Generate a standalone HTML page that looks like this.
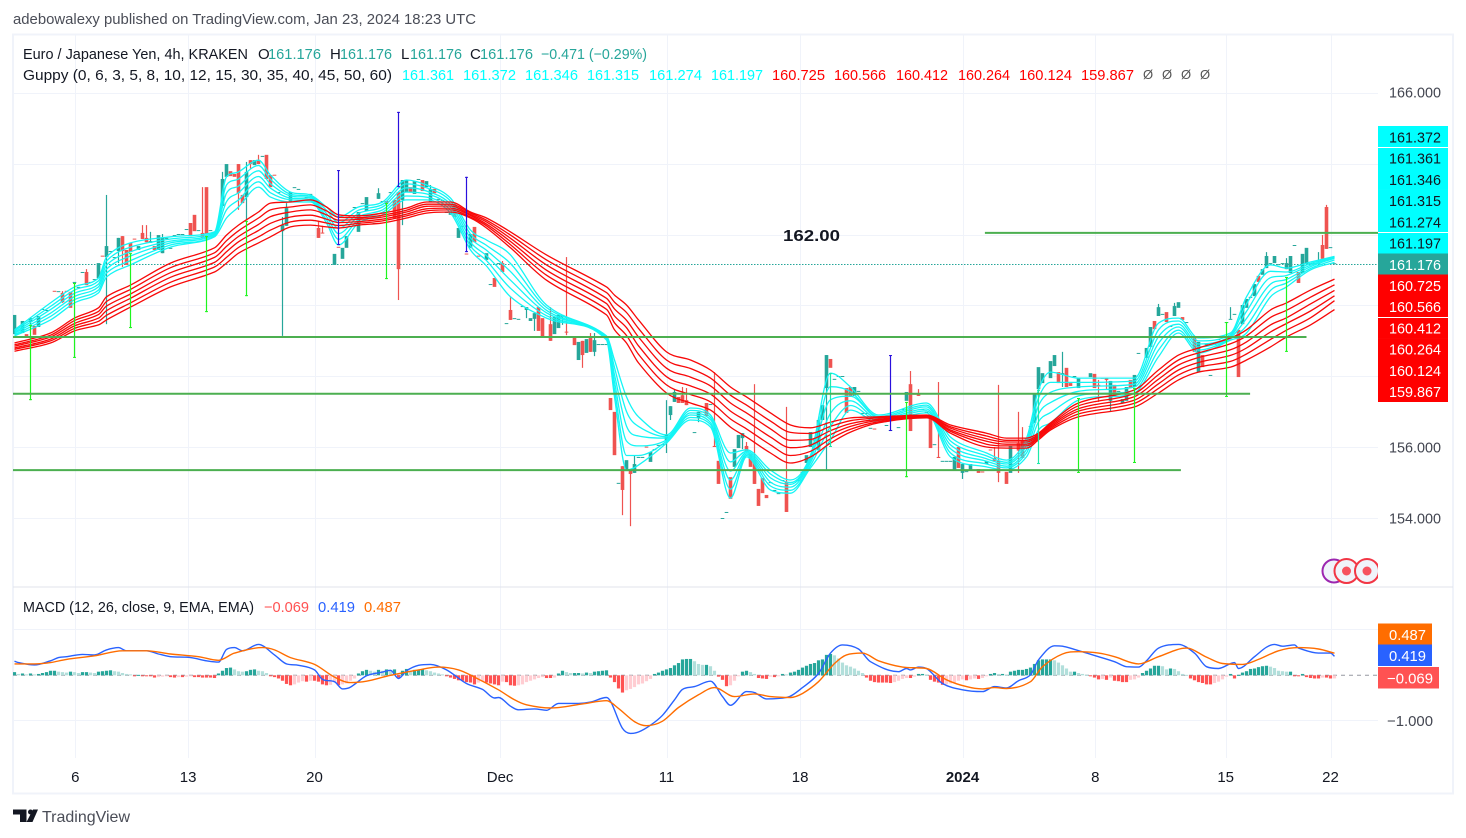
<!DOCTYPE html>
<html lang="en">
<head>
<meta charset="utf-8">
<title>EUR/JPY TradingView chart</title>
<style>
html,body{margin:0;padding:0;background:#fff;width:1466px;height:838px;overflow:hidden}
svg{display:block;font-family:"Liberation Sans",sans-serif}
text{font-family:"Liberation Sans",sans-serif}
</style>
</head>
<body>
<svg id="chart" xmlns="http://www.w3.org/2000/svg" width="1466" height="838" viewBox="0 0 1466 838">
  <defs>
    <clipPath id="pane-clip"><rect x="13" y="35" width="1365" height="552"/></clipPath>
    <clipPath id="macd-clip"><rect x="13" y="588" width="1365" height="170"/></clipPath>
    <clipPath id="icon-clip"><rect x="1315" y="550" width="63" height="36"/></clipPath>
  </defs>
  <text x="13" y="24" font-size="15" fill="#4a4d57" textLength="463" lengthAdjust="spacingAndGlyphs">adebowalexy published on TradingView.com, Jan 23, 2024 18:23 UTC</text>
  <rect x="13" y="34.5" width="1440" height="759" fill="#fff" stroke="#f0f3fa" stroke-width="2"/>
  <g id="grid"></g>
  <line x1="13" y1="587" x2="1453" y2="587" stroke="#e0e3eb" stroke-width="1"/>
  <g id="macd-layer" clip-path="url(#macd-clip)"></g>
  <g id="price-layer" clip-path="url(#pane-clip)"></g>

  <text x="783" y="241" font-size="16" font-weight="700" fill="#131722" textLength="57" lengthAdjust="spacingAndGlyphs">162.00</text>

  <g font-size="15">
    <text x="23" y="59" fill="#131722" textLength="225" lengthAdjust="spacingAndGlyphs">Euro / Japanese Yen, 4h, KRAKEN</text>
    <text x="258" y="59" fill="#131722">O</text>
    <text x="268" y="59" fill="#26a69a" textLength="53" lengthAdjust="spacingAndGlyphs">161.176</text>
    <text x="330" y="59" fill="#131722">H</text>
    <text x="340" y="59" fill="#26a69a" textLength="52" lengthAdjust="spacingAndGlyphs">161.176</text>
    <text x="401" y="59" fill="#131722">L</text>
    <text x="410" y="59" fill="#26a69a" textLength="52" lengthAdjust="spacingAndGlyphs">161.176</text>
    <text x="470" y="59" fill="#131722">C</text>
    <text x="480" y="59" fill="#26a69a" textLength="53" lengthAdjust="spacingAndGlyphs">161.176</text>
    <text x="541" y="59" fill="#26a69a" textLength="106" lengthAdjust="spacingAndGlyphs">−0.471 (−0.29%)</text>
    <text x="23" y="80" fill="#131722" textLength="369" lengthAdjust="spacingAndGlyphs">Guppy (0, 6, 3, 5, 8, 10, 12, 15, 30, 35, 40, 45, 50, 60)</text>
    <g>
      <text x="402" y="80" fill="#00ffff" textLength="52" lengthAdjust="spacingAndGlyphs">161.361</text>
      <text x="463" y="80" fill="#00ffff" textLength="53" lengthAdjust="spacingAndGlyphs">161.372</text>
      <text x="525" y="80" fill="#00ffff" textLength="53" lengthAdjust="spacingAndGlyphs">161.346</text>
      <text x="587" y="80" fill="#00ffff" textLength="52" lengthAdjust="spacingAndGlyphs">161.315</text>
      <text x="649" y="80" fill="#00ffff" textLength="53" lengthAdjust="spacingAndGlyphs">161.274</text>
      <text x="711" y="80" fill="#00ffff" textLength="52" lengthAdjust="spacingAndGlyphs">161.197</text>
      <text x="772" y="80" fill="#ff0000" textLength="53" lengthAdjust="spacingAndGlyphs">160.725</text>
      <text x="834" y="80" fill="#ff0000" textLength="52" lengthAdjust="spacingAndGlyphs">160.566</text>
      <text x="896" y="80" fill="#ff0000" textLength="52" lengthAdjust="spacingAndGlyphs">160.412</text>
      <text x="958" y="80" fill="#ff0000" textLength="52" lengthAdjust="spacingAndGlyphs">160.264</text>
      <text x="1019" y="80" fill="#ff0000" textLength="53" lengthAdjust="spacingAndGlyphs">160.124</text>
      <text x="1081" y="80" fill="#ff0000" textLength="53" lengthAdjust="spacingAndGlyphs">159.867</text>
      <text x="1143" y="79" fill="#555" font-size="13">Ø</text>
      <text x="1162" y="79" fill="#555" font-size="13">Ø</text>
      <text x="1181" y="79" fill="#555" font-size="13">Ø</text>
      <text x="1200" y="79" fill="#555" font-size="13">Ø</text>
    </g>
  </g>

  <g font-size="15">
    <text x="23" y="612" fill="#131722" textLength="231" lengthAdjust="spacingAndGlyphs">MACD (12, 26, close, 9, EMA, EMA)</text>
    <text x="264" y="612" fill="#ff5252" textLength="45" lengthAdjust="spacingAndGlyphs">−0.069</text>
    <text x="318" y="612" fill="#2962ff" textLength="37" lengthAdjust="spacingAndGlyphs">0.419</text>
    <text x="364" y="612" fill="#ff6d00" textLength="37" lengthAdjust="spacingAndGlyphs">0.487</text>
  </g>

  <g clip-path="url(#icon-clip)">
    <circle cx="1334" cy="571" r="11.5" fill="#f0f3fa" stroke="#9c27b0" stroke-width="2"/>
    <circle cx="1346.5" cy="571" r="12" fill="#f0f3fa" stroke="#f23645" stroke-width="2"/>
    <circle cx="1346.5" cy="571" r="4.5" fill="#f7525f"/>
    <circle cx="1367" cy="571" r="12" fill="#f0f3fa" stroke="#f23645" stroke-width="2"/>
    <circle cx="1367" cy="571" r="4.5" fill="#f7525f"/>
  </g>

  <g id="price-axis"></g>
  <g id="time-axis"></g>

  <g>
    <path d="M13 809.500h13.500v12.500h-6.500v-7.500h-7z" fill="#131722"/>
    <circle cx="30.500" cy="812" r="2.500" fill="#131722"/>
    <polygon points="33,809.500 38,809.500 32.500,822 26.500,822" fill="#131722"/>
    <text x="42" y="822" font-size="16" fill="#4a4d57" textLength="88" lengthAdjust="spacingAndGlyphs">TradingView</text>
  </g>
</svg>

<script>
/* ---------- price data (EUR/JPY, 4h) ---------- */
const priceTicks = [166, 156, 154];
const lastPrice = 161.176;
const timeTickBars = [15.2, 43.4, 75, 121.4, 163, 196.4, 237, 270.2, 302.8, 329];
const timeTickLabels = ['6', '13', '20', 'Dec', '11', '18', '2024', '8', '15', '22'];
const gridPrices = [166, 164, 162, 160, 158, 156, 154];
const macdGridValues = [1, -1];

/* [bar, open, close, high?, low?] */
const candles = [
[0,159.18,159.72],[2,159.21,159.55],[3,159.18,159.10],[4,159.52,159.63,159.66,159.46],[5,159.41,159.16],[6,159.38,159.69],[7,159.89,159.89],[8,159.86,159.86],
[10,160.40,160.39],[11,160.39,160.39],[12,160.34,160.08,160.39,160.06],[13,160.40,160.39],[14,160.37,159.92],[15,160.65,160.65],[16,160.51,160.51],[17,160.93,160.93],
[18,160.93,160.56,161.01],[19,160.65,160.65],[20,160.73,160.73],[21,160.76,161.18],[22,161.39,161.38],[23,161.35,161.66,163.10,159.46],[24,161.52,161.52],[25,161.35,161.35],
[26,161.52,161.89,0,161.18],[27,161.94,161.52,0,161.07],[28,161.55,161.13],[29,161.75,161.49],[30,161.87,161.86],[31,161.55,161.66],[32,162.03,161.86,162.25],[33,161.89,161.77,162.25],
[34,161.75,161.80,162.06,161.75],[35,161.66,161.55],[36,161.55,161.97],[37,161.46,161.89,162.00],[38,161.89,161.89],[39,161.61,161.61],[40,161.97,161.97],[41,162.00,162.00],[42,162.00,162.00],[43,162.14,162.14],
[44,162.31,161.94],[45,162.54,162.08],[46,162.11,162.11],[47,162.03,161.89,163.32],[48,163.32,162.00],[49,162.11,162.11],[50,162.06,162.06],[52,162.79,163.55,163.75],[53,163.61,163.97],[54,163.77,163.63],
[55,163.69,163.61],[56,163.97,163.15,0,162.68],[57,163.10,162.87],[58,163.04,163.75,164.03,162.39],[59,164.08,163.97,0,163.83],[60,163.94,164.08],[61,164.08,163.97,164.23],[62,164.20,164.20],[63,164.23,163.55],[64,163.66,163.32],
[65,163.67,163.66],[66,163.18,163.18],[67,162.08,162.25,162.48,159.13],[68,162.23,162.73,162.87],[69,162.90,163.18],[70,163.32,163.32],[71,163.27,163.27],[72,162.96,162.96],[73,163.04,163.04],[74,163.13,163.13],
[75,162.39,162.39],[76,162.17,161.89,162.37],[77,162.04,162.03,162.23],[80,161.13,161.44],[81,161.64,161.63],[82,161.30,161.61],[83,161.61,161.94],[85,162.76,162.76],[86,162.06,162.62],[87,162.87,162.87],
[88,162.65,163.04],[90,162.31,162.31],[91,162.99,163.15,163.29],[92,162.93,162.93],[93,162.93,162.85],[94,163.18,163.18],[95,162.96,162.45],[96,163.18,161.01,0,160.14],[97,162.96,163.52,0,162.25],[98,163.18,163.52],
[99,163.32,163.18],[100,163.13,163.49],[101,163.55,163.55],[102,163.52,163.21],[103,163.32,163.49],[104,162.90,163.27,163.38],[105,163.27,163.15],[106,162.99,162.99],[107,162.96,162.96],[108,162.62,162.62],
[109,162.54,162.62],[110,162.85,162.48],[111,161.89,162.17],[112,162.23,162.23],[113,161.45,161.44],[114,161.61,162.00],[115,162.20,161.77],[116,161.39,161.38],[118,161.27,161.46],[119,160.59,160.59],
[120,160.76,160.51],[121,161.18,161.18],[122,161.18,160.93,161.24],[123,159.49,159.49],[124,159.86,159.58,160.23],[125,159.63,159.63],[126,159.61,159.61],[127,159.97,159.97],[128,159.86,159.94,0,159.63],[129,159.55,159.63],
[130,159.61,159.77,0,159.27],[131,159.94,159.27],[132,159.63,159.10],[134,159.46,158.99,159.94],[135,159.18,159.66],[136,159.35,159.72],[137,159.66,159.72,0,159.44],[138,159.25,159.24,161.35,159.15],[140,159.10,158.87],[141,158.45,158.96],
[142,158.99,158.59,0,158.23],[143,158.65,159.04],[144,159.10,158.68,159.21],[145,158.68,159.01,159.21,158.56],[146,158.90,158.90],[147,158.90,158.90],[148,158.90,158.90],[149,157.38,157.04],[150,156.99,155.77],[151,154.99,154.99],
[152,155.46,154.79,0,154.08],[153,155.32,155.63],[154,155.38,155.24,0,153.77],[155,155.27,155.52,155.77],[156,155.72,155.72],[157,155.72,155.72],[158,156.01,156.00],[159,155.58,155.86],[160,155.94,155.94],[161,156.06,156.06],
[162,156.08,156.08],[163,156.20,156.34,157.32,155.83],[164,156.90,157.15,0,156.76],[165,157.27,157.55,157.61],[166,157.41,157.24],[167,157.46,157.24,157.69],[168,157.32,157.18,157.66],[170,156.42,156.42],[171,156.82,156.99,0,156.70],[172,157.00,156.99],
[173,157.24,156.87],[174,157.21,157.21],[175,156.03,156.00,158.11],[176,155.61,154.96],[177,154.00,154.00],[178,154.17,154.17],[179,155.15,154.54],[180,155.44,155.94],[181,155.97,156.34],[182,156.25,156.39,0,155.94],
[183,156.03,155.86,156.14],[184,155.80,155.44],[185,155.63,154.96,157.77],[186,154.82,154.34],[187,155.13,154.70],[188,154.65,154.56],[189,155.01,155.01],[190,154.79,154.79],[191,154.70,154.70],[192,155.07,155.07],
[193,155.01,154.17,157.13],[196,155.07,155.07],[197,155.21,155.30],[198,155.55,155.77],[199,156.00,156.42],[200,156.21,156.20],[201,155.92,156.76],[202,156.76,157.18],[203,157.66,158.59,0,155.35],[204,158.48,158.23],
[205,157.92,157.92],[206,158.00,158.00],[207,158.00,158.00],[208,157.66,156.96],[209,157.69,157.41],[210,157.44,157.69],[211,157.58,157.58],[212,156.96,156.96],[213,156.96,156.96],[214,156.54,156.54],
[215,156.52,156.51],[216,156.82,156.82],[218,156.62,156.62],[219,156.48,156.48],[221,156.56,156.56],[222,157.07,157.07],[223,157.30,157.55],[224,157.77,156.45,158.14],[225,157.50,157.49],[226,157.52,157.44,157.63],
[227,157.07,157.07],[228,156.99,156.99],[229,156.82,155.97],[230,156.08,156.08],[231,155.72,155.69,157.83],[232,155.61,155.61],[233,155.61,155.61],[234,155.61,155.61],[235,155.35,155.72],[236,156.00,155.41],
[237,155.27,155.52,0,155.10],[238,155.32,155.32],[239,155.35,155.52],[241,155.38,155.27],[242,155.31,155.30],[243,155.52,155.61],[244,155.93,155.92],[245,155.69,155.61,156.00],[246,155.61,155.27,157.75,155.01],[248,155.30,154.96],
[249,155.27,156.03],[251,156.11,155.90,156.99,155.27],[252,156.17,155.69,156.56],[253,156.25,156.25],[254,156.59,156.59],[255,156.68,157.49],[256,157.63,158.25],[257,157.80,158.08],[259,157.94,158.42],[260,158.28,158.59],
[261,158.11,157.80],[262,158.03,158.08,158.68,157.69],[263,158.23,157.69],[264,157.80,157.72],[265,158.00,158.00],[266,157.66,157.94],[269,157.97,158.08],[270,158.06,157.66],[271,157.75,157.72,157.89,157.27],[272,157.95,157.94],
[273,157.94,157.89,0,157.63],[274,157.30,157.86,0,156.99],[275,157.75,157.44],[276,157.58,157.58],[277,157.24,157.35],[278,157.30,157.69],[279,157.89,157.66],[280,157.69,158.03],[281,158.65,158.65],[283,158.51,158.79],
[284,158.82,159.38],[285,159.55,159.32],[286,159.69,159.94,160.03],[287,159.75,159.75],[288,159.80,159.52],[289,159.41,159.41],[290,159.69,159.97,160.06],[291,159.92,160.08],[292,159.66,159.58],[293,159.52,159.52],
[295,159.07,158.68],[296,158.11,158.96],[297,158.59,158.25],[298,158.90,158.90],[299,158.03,158.03],[300,158.90,158.90],[301,159.04,159.04],[303,159.52,159.52],[304,159.61,159.61,159.94],[305,159.75,159.75],
[306,159.30,157.97],[307,159.46,160.00],[308,159.92,160.17],[309,160.23,160.23],[310,160.25,160.59],[311,160.82,160.65],[312,160.85,161.01],[313,161.04,161.38,161.49],[314,161.18,161.18],[315,161.18,161.38],
[316,161.15,161.15],[317,161.18,161.18],[318,161.01,161.18,161.32],[319,160.90,161.38],[320,161.69,161.69],[321,160.93,160.62],[322,160.90,161.44],[323,161.15,161.61],[324,161.18,161.18],[325,161.18,161.18],
[326,161.18,161.18,161.49],[327,161.69,161.30,161.97],[328,162.76,161.58,162.82],[329,161.63,161.63],[330,161.176,161.176]
];

/* coloured long-wick bars: [bar, high, low] */
const limeWicks = [[4,159.44,157.32],[15,160.62,158.51],[29,161.46,159.35],[48,161.94,159.80],[58,162.37,160.25],[93,162.87,160.73],[223,157.27,155.15],[266,157.38,155.27],[280,157.66,155.55],[303,159.52,157.41],[318,160.79,158.68]];
const blueWicks = [[81,163.80,161.69],[96,165.44,163.32],[113,163.61,161.49],[219,158.59,156.45]];
const aquaWicks = [[204,158.08,156.00],[256,157.61,155.52]];

/* horizontal support / resistance drawings */
const levelPrices = [159.10, 157.50, 155.35, 162.03];
const levelStartBars = [-0.4, -0.4, -0.4, 242.6];
const levelEndBars = [323, 308.9, 291.6, 341];

/* Guppy multiple moving averages, sampled at these bars */
const guppyBars = [0,9,15,21,23,29,39,50,53,56,61,64,69,74,78,81,86,92,98,103,109,114,118,124,133,148,150,153,156,163,169,174,179,183,189,194,199,204,209,216,228,234,243,248,253,256,259,266,280,286,291,296,304,308,314,318,324,330];
const guppyCyan1 = [159.30,160.06,160.51,160.76,161.35,161.75,161.92,162.06,163.61,163.75,164.08,163.66,163.18,163.10,162.76,162.48,162.76,162.90,163.52,163.38,163.01,162.11,161.83,161.41,160.00,159.13,158.45,157.41,156.85,156.34,157.10,156.90,155.83,155.92,155.35,155.07,155.77,158.08,157.69,156.90,157.24,156.28,155.83,155.63,156.25,157.61,158.11,157.94,157.94,159.49,159.63,159.07,159.21,160.23,161.13,161.04,161.21,161.37];
const guppyCyan2 = [159.27,159.96,160.42,160.68,161.24,161.63,161.86,162.03,163.38,163.55,163.93,163.54,163.12,163.06,162.67,162.32,162.67,162.83,163.41,163.30,162.93,162.00,161.68,161.17,159.93,159.11,158.24,157.00,156.58,156.29,157.03,156.83,155.58,155.88,155.24,155.00,155.70,157.70,157.56,156.86,157.18,156.17,155.75,155.57,156.14,157.38,157.82,157.82,157.86,159.30,159.55,158.99,159.17,160.03,160.95,160.93,161.17,161.36];
const guppyCyan3 = [159.23,159.87,160.33,160.59,161.12,161.50,161.80,162.00,163.15,163.35,163.78,163.41,163.07,163.02,162.58,162.16,162.58,162.76,163.30,163.21,162.84,161.89,161.54,160.94,159.85,159.08,158.03,156.59,156.31,156.25,156.96,156.77,155.32,155.84,155.13,154.95,155.63,157.33,157.43,156.82,157.13,156.06,155.67,155.52,156.04,157.16,157.54,157.69,157.77,159.11,159.46,158.90,159.13,159.82,160.77,160.83,161.12,161.35];
const guppyCyan4 = [159.20,159.77,160.24,160.51,161.01,161.38,161.75,161.98,162.91,163.16,163.62,163.29,163.01,162.98,162.49,162.01,162.49,162.68,163.18,163.13,162.76,161.77,161.39,160.70,159.78,159.06,157.83,156.17,156.03,156.20,156.90,156.69,155.07,155.80,155.01,154.87,155.56,156.95,157.30,156.78,157.07,155.95,155.60,155.46,155.93,156.93,157.25,157.57,157.69,158.92,159.38,158.82,159.09,159.62,160.59,160.72,161.08,161.32];
const guppyCyan5 = [159.16,159.68,160.15,160.42,160.90,161.25,161.69,161.95,162.68,162.96,163.47,163.16,162.96,162.94,162.40,161.85,162.40,162.61,163.07,163.04,162.67,161.66,161.25,160.47,159.70,159.03,157.62,155.76,155.76,156.16,156.83,156.63,154.81,155.76,154.90,154.78,155.48,156.58,157.17,156.74,157.02,155.83,155.52,155.41,155.83,156.71,156.97,157.44,157.60,158.73,159.29,158.73,159.05,159.41,160.41,160.62,161.03,161.27];
const guppyCyan6 = [159.13,159.58,160.06,160.34,160.79,161.13,161.63,161.92,162.45,162.76,163.32,163.04,162.90,162.90,162.31,161.69,162.31,162.54,162.96,162.96,162.59,161.55,161.10,160.23,159.63,159.01,157.41,155.35,155.49,156.11,156.76,156.56,154.56,155.72,154.79,154.70,155.41,156.20,157.04,156.70,156.96,155.72,155.44,155.35,155.72,156.48,156.68,157.32,157.52,158.54,159.21,158.65,159.01,159.21,160.23,160.51,160.99,161.20];
const guppyRed1 = [158.93,159.21,159.63,159.92,160.23,160.56,161.18,161.61,161.97,162.25,162.62,162.87,162.90,162.96,162.76,162.54,162.51,162.59,162.73,162.90,162.90,162.62,162.45,162.06,161.41,160.51,160.28,160.00,159.58,158.68,158.45,158.17,157.69,157.41,156.96,156.62,156.54,156.70,156.82,156.85,156.90,156.62,156.39,156.25,156.25,156.39,156.68,157.24,157.61,158.17,158.59,158.79,159.07,159.30,159.86,160.06,160.42,160.73];
const guppyRed2 = [158.88,159.15,159.56,159.82,160.10,160.44,161.05,161.47,161.81,162.09,162.45,162.68,162.76,162.82,162.65,162.47,162.46,162.53,162.67,162.84,162.84,162.59,162.39,161.97,161.27,160.35,160.08,159.79,159.34,158.45,158.21,157.94,157.46,157.18,156.73,156.41,156.38,156.58,156.74,156.82,156.88,156.57,156.31,156.19,156.19,156.35,156.64,157.16,157.51,158.04,158.45,158.65,158.91,159.13,159.65,159.85,160.22,160.57];
const guppyRed3 = [158.84,159.10,159.48,159.73,159.97,160.31,160.91,161.34,161.65,161.93,162.27,162.49,162.62,162.68,162.54,162.39,162.41,162.48,162.62,162.78,162.79,162.55,162.34,161.88,161.13,160.19,159.89,159.57,159.10,158.22,157.97,157.72,157.24,156.96,156.51,156.19,156.21,156.46,156.66,156.78,156.87,156.53,156.23,156.14,156.14,156.31,156.60,157.08,157.42,157.91,158.31,158.52,158.74,158.96,159.44,159.64,160.03,160.41];
const guppyRed4 = [158.79,159.04,159.41,159.63,159.84,160.19,160.78,161.20,161.50,161.78,162.10,162.30,162.48,162.53,162.42,162.32,162.35,162.42,162.56,162.71,162.73,162.52,162.28,161.79,160.98,160.04,159.69,159.36,158.85,157.98,157.72,157.49,157.01,156.73,156.28,155.98,156.05,156.35,156.58,156.75,156.85,156.48,156.16,156.08,156.08,156.28,156.56,157.01,157.32,157.78,158.17,158.38,158.58,158.79,159.24,159.48,159.83,160.26];
const guppyRed5 = [158.75,158.99,159.34,159.54,159.71,160.06,160.64,161.07,161.34,161.62,161.92,162.11,162.34,162.39,162.31,162.24,162.30,162.37,162.51,162.65,162.68,162.48,162.23,161.70,160.84,159.88,159.50,159.14,158.61,157.75,157.48,157.27,156.79,156.51,156.06,155.76,155.88,156.23,156.50,156.71,156.84,156.44,156.08,156.03,156.03,156.24,156.52,156.93,157.23,157.65,158.03,158.25,158.41,158.62,159.03,159.29,159.64,160.12];
const guppyRed6 = [158.70,158.93,159.27,159.44,159.58,159.94,160.51,160.93,161.18,161.46,161.75,161.92,162.20,162.25,162.20,162.17,162.25,162.31,162.45,162.59,162.62,162.45,162.17,161.61,160.70,159.72,159.30,158.93,158.37,157.52,157.24,157.04,156.56,156.28,155.83,155.55,155.72,156.11,156.42,156.68,156.82,156.39,156.00,155.97,155.97,156.20,156.48,156.85,157.13,157.52,157.89,158.11,158.25,158.45,158.82,159.10,159.44,159.87];

/* axis label stacks */
const cyanLabels = ['161.372','161.361','161.346','161.315','161.274','161.197'];
const redLabels = ['160.725','160.566','160.412','160.264','160.124','159.867'];

/* MACD series */
const macdBars = [0,1,5,9,11,13,17,20,23,26,28,33,36,39,44,48,51,53,55,57,61,65,68,71,75,77,80,82,84,88,92,94,96,98,101,104,108,113,117,120,
121,124,126,130,133,136,141,144,148,152,154,156,159,162,165,167,170,174,177,179,183,185,188,193,197,201,204,207,211,214,221,223,224,226,228,232,237,
242,245,248,251,254,256,260,262,265,271,275,278,281,283,286,291,295,298,301,305,306,310,313,315,317,320,321,326,329,330];
const macdValues = [.31,.28,.23,.32,.39,.41,.46,.45,.56,.61,.54,.54,.47,.41,.39,.32,.29,.57,.61,.54,.68,.45,.25,.22,.12,-.09,-.14,-.30,-.26,-.01,.07,.11,-.07,.10,.22,.24,.12,-.18,-.31,-.50,
-.49,-.68,-.76,-.74,-.77,-.62,-.62,-.59,-.49,-1.17,-1.28,-1.25,-1.10,-.88,-.54,-.31,-.25,-.13,-.47,-.66,-.36,-.38,-.52,-.49,-.27,.04,.49,.67,.58,.30,.08,.15,.12,.18,.15,-.18,-.32,
-.36,-.25,-.28,-.12,.01,.34,.65,.64,.57,.41,.30,.19,.18,.32,.60,.68,.49,.19,.15,.28,.15,.41,.62,.68,.64,.67,.60,.49,.49,.419];
const signalBars = [0,5,9,13,20,27,33,39,46,51,55,62,65,69,75,80,84,88,94,101,106,111,115,121,125,128,134,142,148,151,155,158,162,166,171,175,180,185,189,194,197,201,205,208,212,216,222,228,233,238,242,245,248,254,257,262,266,271,275,281,286,293,298,302,307,311,316,321,326,330];
const signalValues = [.25,.25,.28,.35,.43,.54,.54,.47,.41,.33,.49,.61,.56,.39,.24,-.04,-.16,-.13,0,.12,.18,.12,-.04,-.32,-.54,-.65,-.72,-.63,-.56,-.73,-1.02,-1.11,-1.01,-.71,-.43,-.27,-.47,-.41,-.47,-.49,-.40,-.14,.26,.45,.49,.32,.18,.15,-.10,-.25,-.30,-.27,-.29,-.14,.19,.47,.52,.49,.41,.25,.41,.60,.40,.26,.24,.35,.54,.61,.58,.487];
/* histogram: one value per bar from bar 0 */
const histogramValues = [
.07,.03,.04,.02,.04,.02,.03,.05,.07,.10,.10,.08,.07,.06,.08,.07,.05,.07,.07,.06,.05,.08,.09,.10,.11,.09,.08,.05,.03,.02,
-.01,.01,-.01,-.02,-.02,-.05,-.04,-.03,-.02,-.04,-.05,-.04,-.04,-.03,-.02,-.04,-.04,-.05,-.05,-.05,-.06,
.04,.10,.16,.17,.13,.09,.08,.09,.12,.13,.10,.09,.05,
-.02,-.04,-.07,-.12,-.19,-.22,-.20,-.16,-.13,-.14,-.12,-.12,-.14,-.20,-.22,-.21,-.15,-.22,-.20,-.18,-.12,-.07,
.04,.09,.12,.10,.08,.12,.10,.13,.11,.13,-.05,.10,.14,.10,.12,.12,.13,.11,.09,.06,.04,.02,
-.02,-.05,-.08,-.11,-.12,-.15,-.16,-.20,-.16,-.13,-.16,-.18,-.20,-.22,
-.14,-.15,-.22,-.23,-.22,-.20,-.15,-.12,-.09,-.06,-.04,-.06,-.06,-.05,
.04,.10,.07,.05,.05,.05,.04,.06,.05,.08,.09,.10,.11,
-.05,-.15,-.29,-.38,-.33,-.30,-.26,-.20,-.18,-.13,-.08,
.03,.06,.10,.13,.16,.22,.27,.35,.36,.36,.31,.25,.23,.23,.20,.10,
-.03,-.10,-.24,-.22,-.12,-.01,
.08,.10,.07,.03,-.06,-.07,-.08,-.03,-.04,-.02,
.03,.02,.06,.08,.12,.17,.21,.25,.27,.33,.35,.45,.47,.44,.37,.28,.22,.19,.15,.10,.05,
-.05,-.12,-.15,-.16,-.16,-.16,-.17,-.15,-.12,-.08,-.06,-.06,-.03,
.03,.03,.01,
-.10,-.14,-.16,-.21,-.20,-.18,-.17,-.12,-.09,-.11,-.09,-.07,-.08,-.06,-.02,
.03,.05,.03,.03,.01,.08,.10,.12,.12,.14,.17,.25,.33,.35,.35,.35,.33,.28,.22,.15,.08,.08,.05,.03,.01,
-.01,-.05,-.09,-.08,-.10,-.05,-.12,-.13,-.15,-.15,-.10,-.09,-.05,
.05,.10,.15,.21,.21,.20,.13,.15,.14,.09,.03,.01,
-.07,-.11,-.15,-.17,-.20,-.20,-.17,-.14,-.09,-.03,.03,-.07,.01,
.06,.09,.14,.15,.18,.20,.21,.19,.16,.10,.09,.08,.08,
-.01,-.01,.03,-.04,-.06,-.07,-.07,-.05,-.05,-.07,-.069
];

/* ---------- axis functions ---------- */
function xBar(b) { return 14.5 + 4 * b; }
function yPrice(p) { return 447 - (p - 156) * 35.5; }
function yGrid(p) { return 447.5 - (p - 156) * 35.4; }
function yMacd(v) { return 675.3 - v * 45.4; }

const NS = 'http://www.w3.org/2000/svg';
function make(tag, attrs, parent) {
  const el = document.createElementNS(NS, tag);
  for (const k in attrs) el.setAttribute(k, attrs[k]);
  parent.appendChild(el);
  return el;
}
const gridG = document.getElementById('grid');
const priceG = document.getElementById('price-layer');
const macdG = document.getElementById('macd-layer');
const axisG = document.getElementById('price-axis');
const timeG = document.getElementById('time-axis');

/* grid */
gridPrices.forEach(function (p) {
  const y = Math.floor(yGrid(p)) + 0.5;
  const el = make('line', { x1: 13, x2: 1378, y1: y, y2: y, stroke: '#f0f3fa', 'stroke-width': 1 }, gridG);
  
  
});
macdGridValues.forEach(function (v) {
  const y = Math.floor(yMacd(v)) + 0.5;
  const el = make('line', { x1: 13, x2: 1378, y1: y, y2: y, stroke: '#f0f3fa', 'stroke-width': 1 }, gridG);
  
  
});
timeTickBars.forEach(function (b, i) {
  const x = Math.round(xBar(b)) + 0.5;
  const el = make('line', { x1: x, x2: x, y1: 35, y2: 758, stroke: '#f0f3fa', 'stroke-width': 1 }, gridG);
  
  
  const t = make('text', { x: xBar(b), y: 782, 'text-anchor': 'middle', 'font-size': 15, fill: '#131722' }, timeG);
  
  
  if (timeTickLabels[i] === '2024') t.setAttribute('font-weight', '700');
  t.textContent = timeTickLabels[i];
});

/* last price line */
const lastY = Math.ceil(yPrice(lastPrice)) + 0.5;
const lastLine = make('line', { x1: 13, x2: 1378, y1: lastY, y2: lastY, stroke: '#26a69a', 'stroke-width': 1, 'stroke-dasharray': '1.500 1.500' }, priceG);



/* candles */
const candleG = make('g', {}, priceG);


candles.forEach(function (r) {
  const bar = r[0], o = r[1], c = r[2];
  const hi = Math.max(o, c, r[3] || 0);
  const lo = Math.min(o, c, r[4] || Infinity);
  const up = c >= o;
  const col = up ? '#26a69a' : '#ef5350';
  const x = xBar(bar);
  const top = yPrice(Math.max(o, c));
  const h = Math.max(1, yPrice(Math.min(o, c)) - top);
  const g = make('g', {}, candleG);
  
  
  if (hi > Math.max(o, c) || lo < Math.min(o, c)) {
    make('rect', { x: x - 0.6, y: yPrice(hi), width: 1.2, height: yPrice(lo) - yPrice(hi), fill: col }, g);
  }
  make('rect', { x: x - 1.8, y: top, width: 3.6, height: h, fill: col }, g);
});

/* smooth monotone line through the samples */
function smoothPath(xs, ys) {
  const n = xs.length;
  const slopes = [];
  for (let i = 0; i < n - 1; i++) slopes.push((ys[i + 1] - ys[i]) / (xs[i + 1] - xs[i]));
  const m = [slopes[0]];
  for (let i = 1; i < n - 1; i++) {
    const a = slopes[i - 1], b = slopes[i];
    if (a * b <= 0) { m.push(0); continue; }
    const avg = (ys[i + 1] - ys[i - 1]) / (xs[i + 1] - xs[i - 1]);
    const lim = 3 * Math.min(Math.abs(a), Math.abs(b));
    m.push(Math.sign(avg) * Math.min(Math.abs(avg), lim));
  }
  m.push(slopes[n - 2]);
  let d = 'M' + xs[0].toFixed(1) + ' ' + ys[0].toFixed(1);
  for (let i = 0; i < n - 1; i++) {
    const dx = (xs[i + 1] - xs[i]) / 3;
    d += 'C' + (xs[i] + dx).toFixed(1) + ' ' + (ys[i] + m[i] * dx).toFixed(1) + ' ' +
         (xs[i + 1] - dx).toFixed(1) + ' ' + (ys[i + 1] - m[i + 1] * dx).toFixed(1) + ' ' +
         xs[i + 1].toFixed(1) + ' ' + ys[i + 1].toFixed(1);
  }
  return d;
}
function drawLine(parent, bars, vals, yFn, col, width, name) {
  const el = make('path', { d: smoothPath(bars.map(xBar), vals.map(yFn)), fill: 'none', stroke: col, 'stroke-width': width, 'stroke-linejoin': 'round' }, parent);
  
  
}
[guppyCyan1, guppyCyan2, guppyCyan3, guppyCyan4, guppyCyan5, guppyCyan6].forEach(function (s, i) {
  drawLine(priceG, guppyBars, s, yPrice, '#14f5f5', 1.3, 'guppy-short-line-' + (i + 1));
});
[guppyRed1, guppyRed2, guppyRed3, guppyRed4, guppyRed5, guppyRed6].forEach(function (s, i) {
  drawLine(priceG, guppyBars, s, yPrice, '#f80808', 1.3, 'guppy-long-line-' + (i + 1));
});

/* coloured wicks */
function drawWicks(list, col, name) {
  list.forEach(function (w) {
    const x = xBar(w[0]);
    const g = make('g', { fill: col }, priceG);
    
    
    make('rect', { x: x - 0.6, y: yPrice(w[1]), width: 1.2, height: yPrice(w[2]) - yPrice(w[1]) }, g);
    make('rect', { x: x - 1.5, y: yPrice(w[1]), width: 3, height: 1 }, g);
    make('rect', { x: x - 1.5, y: yPrice(w[2]) - 1, width: 3, height: 1 }, g);
  });
}
drawWicks(limeWicks, '#1ef51e', 'lime-wick');
drawWicks(blueWicks, '#2a10dd', 'blue-wick');
drawWicks(aquaWicks, '#1ee8a8', 'aqua-wick');

/* horizontal levels */
levelPrices.forEach(function (p, i) {
  const el = make('line', { x1: xBar(levelStartBars[i]), x2: xBar(levelEndBars[i]), y1: yPrice(p), y2: yPrice(p), stroke: '#4caf50', 'stroke-width': 2 }, priceG);
  
  
});

/* MACD pane */
const zero = make('line', { x1: 13, x2: 1378, y1: yMacd(0), y2: yMacd(0), stroke: '#9598a1', 'stroke-width': 1, 'stroke-dasharray': '4 4' }, macdG);


histogramValues.forEach(function (v, i) {
  const prev = i ? histogramValues[i - 1] : 0;
  const col = v >= 0 ? (v >= prev ? '#26a69a' : '#b2dfdb') : (v <= prev ? '#ff5252' : '#ffcdd2');
  const y0 = yMacd(0), y1 = yMacd(v);
  const el = make('rect', { x: xBar(i) - 1.6, y: Math.min(y0, y1), width: 3.2, height: Math.max(1, Math.abs(y1 - y0)), fill: col }, macdG);
  
  
});
drawLine(macdG, macdBars, macdValues, yMacd, '#2962ff', 1.4, 'macd-line');
drawLine(macdG, signalBars, signalValues, yMacd, '#ff6d00', 1.4, 'signal-line');

/* price axis labels */
function axisLabel(text, y, bg, fg, name, w) {
  if (bg) {
    const r = make('rect', { x: 1378, y: y - 11, width: w || 70, height: 21.5, fill: bg }, axisG);
    
    
  }
  const len = text.length === 7 ? 52 : (text.length === 6 ? 46 : 37);
  const right = w && w < 70 ? 1378 + w - 6 : 1441;
  const t = make('text', { x: right - len, y: y + 5.5, 'font-size': 15, fill: fg, textLength: len, lengthAdjust: 'spacingAndGlyphs' }, axisG);
  
  
  t.textContent = text;
}
priceTicks.forEach(function (p) {
  axisLabel(p.toFixed(3), yPrice(p), null, '#434651', 'price-tick-label');
});
cyanLabels.forEach(function (s, i) {
  axisLabel(s, 137 + i * 21.2, '#00ffff', '#131722', 'guppy-short-label');
});
axisLabel(lastPrice.toFixed(3), 264.5, '#26a69a', '#ffffff', 'last-price-label');
redLabels.forEach(function (s, i) {
  axisLabel(s, 285.5 + i * 21.2, '#ff0000', '#ffffff', 'guppy-long-label');
});
const gapTop = make('rect', { x: 1378, y: 147, width: 70, height: 1, fill: '#ffffff' }, axisG);


const gapA = make('rect', { x: 1378, y: 232, width: 70, height: 1, fill: '#ffffff' }, axisG);


const gapB = make('rect', { x: 1378, y: 317, width: 70, height: 1, fill: '#ffffff' }, axisG);


axisLabel('0.487', 634.5, '#ff6d00', '#ffffff', 'macd-signal-label', 54);
axisLabel('0.419', 655.5, '#2962ff', '#ffffff', 'macd-line-label', 54);
axisLabel('−0.069', 678, '#ff5252', '#ffffff', 'macd-histogram-label', 61);
axisLabel('−1.000', yMacd(-1), null, '#434651', 'macd-tick-label', 61);
</script>
</body>
</html>
